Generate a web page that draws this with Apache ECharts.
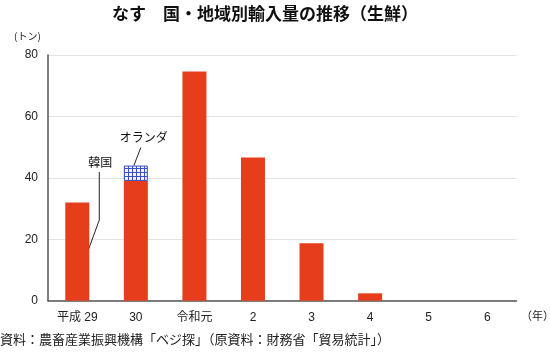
<!DOCTYPE html>
<html><head><meta charset="utf-8">
<script src="https://cdn.jsdelivr.net/npm/echarts@6/dist/echarts.min.js"></script>
<style>html,body{margin:0;padding:0;background:#fff}#c{width:550px;height:356px}</style>
</head><body><div id="c"></div>
<script>
var categories = ['平成 29', '30', '令和元', '2', '3', '4', '5', '6'];
var korea = [32, 39, 74.6, 46.6, 18.7, 2.4, 0, 0];
var netherlands = [null, 5, null, null, null, null, null, null];
var yTicks = [0, 20, 40, 60, 80];

var FONT = '"Liberation Sans","Noto Sans CJK JP",sans-serif';
var JFONT = '"Noto Sans CJK JP",sans-serif';

var pc = document.createElement('canvas');
pc.width = 4; pc.height = 4;
var g = pc.getContext('2d');
g.fillStyle = '#f4f6ff'; g.fillRect(0, 0, 4, 4);
g.fillStyle = '#3b4fc4'; g.fillRect(0, 0, 4, 1); g.fillRect(0, 0, 1, 4);

var chart = echarts.init(document.getElementById('c'), null, {renderer: 'canvas'});
var option = {
  animation: false,
  grid: {left: 48, right: 33.5, top: 55, bottom: 55.3, containLabel: false},
  xAxis: {
    type: 'category', data: categories,
    axisLine: {lineStyle: {color: '#555', width: 1.5}},
    axisTick: {show: false},
    axisLabel: {color: '#222', fontSize: 12, fontFamily: FONT, margin: 11}
  },
  yAxis: {
    type: 'value', min: yTicks[0], max: yTicks[yTicks.length - 1], interval: 20,
    axisLine: {show: true, lineStyle: {color: '#555', width: 1.5}},
    axisTick: {show: false},
    axisLabel: {color: '#222', fontSize: 12, fontFamily: FONT, margin: 10},
    splitLine: {lineStyle: {color: '#e4e4e4', width: 1}}
  },
  series: [
    {name: '韓国', type: 'bar', stack: 't', data: korea, barWidth: 24,
     itemStyle: {color: '#e63d1c'}},
    {name: 'オランダ', type: 'bar', stack: 't', data: netherlands, barWidth: 24,
     itemStyle: {color: {image: pc, repeat: 'repeat'}, borderColor: '#3b4fc4', borderWidth: 1}}
  ]
};
chart.setOption(option);

var pK = chart.convertToPixel({gridIndex: 0}, [0, 16.5]);
var pN = chart.convertToPixel({gridIndex: 0}, [1, korea[1] + netherlands[1]]);
var kx = pK[0] + 11, ky = pK[1];
var nx = pN[0] - 2, ny = pN[1];

chart.setOption({
  graphic: [
    {type: 'text', left: 112, top: 5, style: {text: 'なす　国・地域別輸入量の推移（生鮮）', fontSize: 17, fontWeight: 'bold', fontFamily: JFONT, fill: '#111'}},
    {type: 'text', left: 14, top: 31, style: {text: '(トン)', fontSize: 10, fontFamily: JFONT, fill: '#222'}},
    {type: 'text', left: 521, top: 310, style: {text: '（年）', fontSize: 11, fontFamily: JFONT, fill: '#222'}},
    {type: 'text', left: 0, top: 333, style: {text: '資料：農畜産業振興機構「ベジ探」（原資料：財務省「貿易統計」）', fontSize: 13, fontFamily: JFONT, fill: '#222'}},
    {type: 'polyline', shape: {points: [[kx + 11, ky - 78], [kx + 11, ky - 30], [kx, ky]]}, style: {stroke: '#222', lineWidth: 1, fill: null}},
    {type: 'text', x: kx + 12, y: ky - 88, style: {text: '韓国', fontSize: 12, fontFamily: JFONT, fill: '#111', align: 'center', verticalAlign: 'middle'}},
    {type: 'line', shape: {x1: nx, y1: ny, x2: nx + 7, y2: ny - 18}, style: {stroke: '#222', lineWidth: 1}},
    {type: 'text', x: nx + 10, y: ny - 28, style: {text: 'オランダ', fontSize: 12, fontFamily: JFONT, fill: '#111', align: 'center', verticalAlign: 'middle'}}
  ]
});
</script></body></html>
